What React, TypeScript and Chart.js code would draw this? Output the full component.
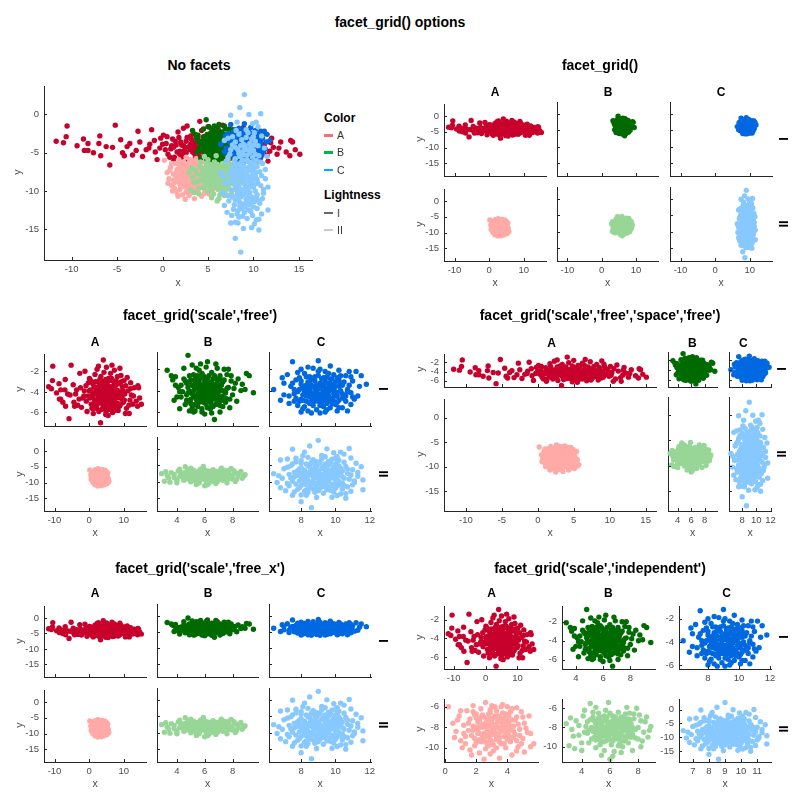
import React, { useEffect, useRef } from 'react';
import { Chart, registerables } from 'chart.js';
Chart.register(...registerables);

// ---------------- data (x, y) ----------------
const groupAI: number[][] = [
  [-11.7,-3.5],[-10.9,-3.7],[-10.6,-2.9],[-10.5,-1.5],[-8.7,-3.2],[-8.6,-4.7],[-8.2,-3.8],[-8.2,-4.7],[-7.0,-3.8],[-6.9,-2.8],
  [-6.8,-5.4],[-5.8,-6.6],[-5.2,-1.4],[-5.5,-4.3],[-4.6,-3.3],[-4.4,-5.0],[-4.2,-5.4],[-3.9,-4.2],[-3.3,-5.3],[-2.7,-2.2],
  [-2.5,-3.6],[-2.2,-5.5],[-1.8,-4.6],[-1.4,-3.9],[-1.2,-2.0],[-0.9,-3.4],[-0.6,-5.9],[-0.3,-4.4],
  [15.1,-5.2],[14.6,-4.6],[14.3,-3.6],[14.1,-3.4],[14.0,-5.4],[13.0,-3.6],[12.6,-5.2],[12.2,-4.3],[12.0,-3.1],[11.8,-4.8],
  [11.6,-6.1],[11.2,-3.9],[11.0,-2.6],[10.8,-5.6],[10.5,-6.1],[10.3,-4.2],[10.1,-2.9],[9.9,-5.0],[9.6,-3.5],
  [0.1,-2.7],[0.4,-3.8],[0.6,-5.2],[0.9,-4.5],[1.1,-3.2],[1.3,-5.6],[1.5,-4.0],[1.7,-2.3],[1.9,-4.8],[2.0,-3.6],
  [2.2,-5.3],[2.3,-1.8],[2.5,-4.3],[2.7,-3.0],[2.8,-5.9],[3.0,-4.6],[3.1,-3.9],[3.3,-7.0],[3.4,-2.5],[3.5,-5.1],
  [3.7,-4.2],[3.8,-3.4],[4.0,-5.5],[4.1,-0.9],[4.2,-4.0],[4.3,-2.1],[4.5,-4.8],[4.6,-3.6],[4.8,-6.2],[4.9,-4.4],
  [5.0,-1.6],[5.1,-3.2],[5.3,-5.0],[5.4,-4.1],[5.6,-2.7],[5.7,-5.7],[5.9,-3.8],[6.0,-4.6],[6.2,-2.2],[6.3,-5.2],
  [6.5,-3.5],[6.6,-4.3],[6.8,-6.0],[7.0,-3.0],[7.1,-4.9],[7.3,-1.9],[7.4,-4.0],[7.6,-5.4],[7.8,-3.3],[8.0,-4.6],
  [8.2,-2.5],[8.4,-5.8],[8.5,-3.9],[8.7,-4.4],[8.9,-1.7],[9.1,-5.2],[9.3,-3.0],[9.4,-4.7],
  [1.0,-4.1],[2.4,-4.7],[3.6,-3.7],[4.4,-4.5],[5.2,-4.3],[6.1,-3.9],[6.9,-4.5],[3.2,-3.3],[2.1,-4.0],[5.8,-5.0],
  [4.7,-5.2],[7.7,-4.2],
  [-0.8,-4.9],[-0.2,-3.1],[0.3,-4.6],[0.5,-2.9],[0.8,-5.6],[1.2,-4.3],[1.4,-3.5],[1.6,-4.9],[1.8,-3.0],[2.1,-5.6],
  [2.3,-4.1],[2.6,-3.5],[2.6,-5.0],[2.9,-4.2],[3.1,-2.8],[3.3,-4.9],[3.5,-3.9],[3.6,-5.7],[3.8,-4.5],[3.9,-3.0],
  [4.1,-4.9],[4.3,-3.6],[4.5,-5.5],[4.6,-4.2],[4.8,-2.8],[5.0,-3.8],[5.1,-5.3],[5.3,-4.6],[5.5,-3.4],[5.6,-4.9],
  [5.8,-2.9],[6.0,-4.1],[6.2,-5.6],[6.4,-4.7],[6.5,-2.7],[6.7,-3.8],[6.9,-5.2],[7.1,-4.2],[7.2,-3.4],[7.4,-5.8],
  [7.6,-4.6],[7.8,-2.9],[8.0,-3.8],[8.2,-5.1],[8.4,-4.3],[8.6,-3.2],[8.8,-5.4],[9.0,-4.0],[9.2,-2.4],[9.5,-4.5],
  [9.8,-3.9],[10.2,-4.8],[10.6,-3.4],[0.0,-3.9],[1.9,-5.2],[3.4,-4.4],[4.9,-5.9],[5.9,-4.4],[7.3,-4.6],[8.1,-4.1],
  [-1.5,-4.4],[-2.9,-4.7],[-3.6,-3.8],[-6.2,-4.2],[-7.6,-5.0],[-9.4,-4.1],[12.8,-4.4],[13.6,-4.9],[11.5,-5.3],[11.9,-3.7],
  [2.7,-1.5],[6.6,-1.4],[1.2,-6.1],[5.5,-6.3]
];
const groupBI: number[][] = [
  [4.8,-0.7],[3.3,-2.1],[3.6,-2.6],[3.7,-3.0],[3.9,-2.7],[9.5,-4.2],[9.0,-2.4],[9.2,-2.6],[8.9,-3.9],[8.6,-4.0],
  [6.7,-6.7],[6.0,-6.2],[5.2,-6.0],[7.1,-6.0],[4.2,-5.7],[4.0,-4.6],[3.8,-4.9],[4.3,-3.5],[4.5,-1.9],[5.1,-1.6],
  [6.2,-1.3],[6.8,-1.5],[7.4,-2.0],[7.9,-2.6],[8.2,-3.3],[8.3,-5.0],[7.8,-5.6],[7.5,-4.7],[4.6,-5.3],[5.0,-4.1],
  [4.9,-3.2],[5.0,-4.8],[5.2,-2.5],[5.3,-3.8],[5.4,-5.2],[5.5,-4.3],[5.6,-2.1],[5.7,-3.4],[5.8,-4.9],[5.9,-3.9],
  [6.0,-2.8],[6.1,-4.5],[6.2,-5.6],[6.3,-3.3],[6.4,-4.1],[6.5,-2.3],[6.6,-4.8],[6.7,-3.6],[6.8,-5.3],[6.9,-4.3],
  [7.0,-2.9],[7.1,-3.9],[7.2,-4.9],[7.3,-3.2],[7.5,-4.2],[7.6,-2.5],[7.7,-3.7],[4.7,-4.4],[4.8,-3.7],[5.1,-5.6],
  [5.3,-4.6],[5.6,-3.0],[5.8,-5.7],[6.0,-3.5],[6.2,-4.0],[6.4,-5.0],[6.6,-2.9],[6.9,-3.3],[7.3,-5.5],[5.4,-1.9],
  [6.1,-1.8],[4.4,-4.1],[4.1,-3.7],[8.0,-4.4],[7.9,-3.1],[5.9,-4.2],[6.3,-4.6],[5.5,-3.6],[6.7,-4.1],[5.7,-4.5],
  [6.5,-3.8],[5.2,-4.0],
  [4.6,-3.1],[4.7,-4.9],[4.9,-2.6],[5.0,-5.2],[5.1,-3.5],[5.2,-4.5],[5.3,-2.9],[5.4,-3.3],[5.5,-5.5],[5.5,-2.6],
  [5.6,-4.7],[5.7,-3.9],[5.8,-2.4],[5.9,-5.1],[6.0,-4.4],[6.0,-3.1],[6.1,-5.3],[6.2,-3.7],[6.3,-2.6],[6.3,-5.0],
  [6.4,-4.5],[6.5,-3.2],[6.6,-5.5],[6.6,-3.9],[6.7,-2.6],[6.8,-4.6],[6.9,-3.7],[7.0,-5.1],[7.0,-4.1],[7.1,-2.6],
  [7.2,-3.5],[7.3,-4.5],[7.4,-3.0],[7.5,-5.1],[7.6,-3.8],[7.8,-4.8],[8.1,-3.8],[8.4,-2.9],[4.3,-4.6],[4.5,-2.9],
  [4.2,-4.1],[5.8,-6.0],[6.5,-6.1],[6.9,-1.9],[5.7,-1.5],[4.9,-5.9],[7.7,-2.0],[8.7,-3.4],[3.9,-3.5],[5.3,-5.9],
  [4.8,-4.2],[4.9,-5.0],[5.0,-3.0],[5.1,-4.3],[5.2,-3.6],[5.3,-5.3],[5.4,-4.8],[5.5,-3.1],[5.6,-4.0],[5.6,-5.1],
  [5.7,-2.8],[5.8,-3.6],[5.9,-4.6],[6.0,-5.0],[6.1,-3.3],[6.1,-4.1],[6.2,-2.9],[6.3,-4.3],[6.4,-3.6],[6.5,-4.7],
  [6.5,-5.3],[6.6,-3.4],[6.7,-4.4],[6.8,-2.9],[6.8,-3.9],[6.9,-5.0],[7.0,-3.6],[7.1,-4.6],[7.2,-3.0],[7.3,-4.0],
  [5.3,-3.1],[5.9,-2.6],[6.4,-5.7],[5.5,-4.9],[7.1,-5.4],[4.7,-3.3],[6.0,-3.8],[6.2,-4.8],[5.8,-4.3],[6.6,-4.2]
];
const groupCI: number[][] = [
  [6.4,-3.9],[6.8,-4.9],[7.0,-3.3],[7.5,-1.3],[9.0,-1.2],[11.8,-3.4],[11.2,-2.2],[11.1,-4.8],[11.3,-4.5],[10.7,-5.9],
  [8.6,-6.1],[9.4,-6.0],[8.0,-6.0],[10.1,-5.9],[7.2,-2.5],[7.3,-5.2],[7.6,-4.3],[7.7,-3.0],[7.8,-2.3],[8.0,-4.8],
  [8.1,-3.6],[8.2,-5.5],[8.3,-2.7],[8.4,-4.2],[8.5,-3.2],[8.6,-5.0],[8.7,-1.9],[8.8,-3.8],[8.9,-4.6],[9.0,-2.6],
  [9.1,-5.4],[9.2,-3.4],[9.3,-4.1],[9.4,-2.2],[9.5,-4.9],[9.6,-3.7],[9.7,-5.6],[9.8,-2.9],[9.9,-4.3],[10.0,-3.2],
  [10.1,-5.1],[10.2,-2.1],[10.3,-4.0],[10.4,-3.5],[10.5,-4.7],[10.6,-2.6],[10.7,-3.9],[10.9,-5.3],[11.0,-3.1],[10.8,-2.2],
  [7.9,-3.9],[8.4,-5.9],[8.6,-2.9],[8.8,-4.4],[9.0,-3.6],[9.2,-4.8],[9.4,-3.1],[9.6,-4.5],[9.8,-5.2],[10.0,-4.1],
  [10.2,-3.0],[8.2,-4.1],[8.9,-5.8],[9.1,-2.0],[9.7,-3.3],[10.4,-5.6],[7.4,-3.6],[10.9,-4.2],[8.5,-4.6],[9.3,-4.5],
  [9.9,-3.8],[8.3,-3.5],[9.5,-2.7],[10.6,-4.5],[7.6,-5.0],
  [7.5,-3.3],[7.7,-4.7],[7.8,-5.4],[7.9,-2.8],[8.0,-3.4],[8.1,-4.4],[8.2,-2.4],[8.3,-5.0],[8.4,-3.8],[8.5,-2.7],
  [8.6,-4.2],[8.7,-5.4],[8.8,-3.1],[8.9,-4.1],[9.0,-5.0],[9.0,-2.2],[9.1,-3.3],[9.2,-4.3],[9.3,-5.5],[9.3,-2.8],
  [9.4,-3.8],[9.5,-4.5],[9.6,-2.4],[9.7,-4.9],[9.8,-3.5],[9.9,-2.5],[10.0,-5.3],[10.1,-4.5],[10.2,-3.6],[10.3,-2.6],
  [10.4,-4.7],[10.5,-3.2],[10.6,-5.0],[10.8,-3.5],[10.9,-2.7],[11.0,-4.6],[7.6,-3.9],[7.3,-4.5],[8.1,-5.7],[9.5,-5.8],
  [10.2,-5.6],[8.4,-1.8],[9.7,-1.7],[11.4,-3.6],[7.0,-4.4],[8.0,-2.0],[10.7,-4.1],[9.1,-6.1],[6.9,-2.8],[11.5,-2.6],
  [7.8,-4.1],[7.9,-5.0],[8.0,-3.1],[8.1,-4.9],[8.2,-3.8],[8.3,-4.5],[8.4,-3.2],[8.5,-5.2],[8.5,-3.9],[8.6,-3.5],
  [8.7,-4.8],[8.8,-2.7],[8.9,-3.5],[9.0,-4.3],[9.0,-4.8],[9.1,-3.8],[9.2,-2.9],[9.2,-5.1],[9.3,-3.6],[9.4,-4.2],
  [9.5,-3.3],[9.5,-5.2],[9.6,-4.1],[9.7,-2.9],[9.8,-4.7],[9.8,-3.9],[9.9,-5.0],[10.0,-3.6],[10.1,-2.8],[10.1,-4.2],
  [10.2,-4.9],[10.3,-3.3],[10.4,-4.3],[8.3,-4.0],[8.8,-5.0],[9.3,-4.9],[9.7,-3.6],[10.0,-4.5],[8.6,-4.5],[9.1,-4.5]
];
const groupAII: number[][] = [
  [0.2,-6.0],[0.5,-7.6],[0.7,-8.4],[1.0,-9.3],[0.9,-6.9],[1.2,-7.8],[1.3,-8.9],[1.4,-6.4],[1.6,-10.2],[1.7,-10.7],
  [1.6,-7.2],[1.8,-8.3],[1.9,-6.8],[2.0,-9.5],[2.1,-7.5],[2.2,-8.6],[2.3,-6.2],[2.4,-9.0],[2.5,-11.1],[2.5,-7.9],
  [2.6,-5.6],[2.7,-8.3],[2.8,-7.1],[2.8,-9.8],[2.9,-6.6],[3.0,-8.7],[3.0,-7.6],[3.1,-10.3],[3.2,-8.1],[3.3,-6.4],
  [3.3,-9.2],[3.4,-7.3],[3.5,-8.5],[3.6,-6.0],[3.6,-9.6],[3.7,-7.8],[3.8,-8.9],[3.9,-6.7],[3.9,-10.0],[4.0,-7.4],
  [4.1,-8.3],[4.2,-9.4],[4.3,-10.7],[4.3,-6.2],[4.4,-7.9],[4.5,-8.7],[4.6,-7.0],[4.7,-9.9],[4.8,-8.2],[4.9,-6.5],
  [5.0,-9.1],[5.1,-7.6],[5.3,-8.5],[5.4,-6.9],[5.5,-9.9],[5.7,-9.6],[2.0,-8.0],[2.6,-9.4],[3.4,-8.0],[3.8,-7.2],
  [2.3,-7.0],[4.1,-8.8],[1.5,-8.3],[3.0,-5.9],[2.9,-10.6],[4.6,-10.3],[1.1,-10.0],[4.0,-6.0],
  [1.5,-7.6],[1.7,-8.8],[1.8,-6.5],[1.9,-9.8],[2.0,-7.1],[2.1,-8.6],[2.2,-9.2],[2.3,-7.7],[2.4,-6.8],[2.5,-8.6],
  [2.6,-10.1],[2.7,-7.4],[2.8,-8.9],[2.9,-6.3],[3.0,-9.4],[3.1,-7.1],[3.2,-8.5],[3.3,-10.0],[3.4,-6.9],[3.5,-9.0],
  [3.6,-7.5],[3.7,-8.3],[3.8,-9.6],[3.9,-7.0],[4.0,-8.6],[4.1,-7.7],[4.2,-6.5],[4.3,-9.0],[4.4,-8.4],[4.5,-7.3],
  [4.6,-9.3],[4.7,-7.7],[4.8,-8.8],[5.0,-7.0],[5.2,-8.1],[1.2,-8.6],[0.8,-7.3],[1.3,-9.6],[5.5,-8.6],[5.1,-10.4],
  [2.2,-10.5],[3.5,-11.0],[3.7,-5.8],[1.8,-5.9],[4.6,-6.1],[0.6,-9.0],[2.7,-9.6],[3.2,-6.0],[4.9,-9.6],[1.0,-6.4],
  [1.8,-7.9],[1.9,-9.1],[2.0,-6.7],[2.1,-8.2],[2.2,-7.3],[2.3,-9.4],[2.4,-8.0],[2.5,-7.0],[2.6,-8.9],[2.7,-7.9],
  [2.8,-6.7],[2.8,-8.5],[2.9,-9.2],[3.0,-7.3],[3.1,-8.1],[3.1,-9.7],[3.2,-6.9],[3.3,-7.7],[3.4,-8.7],[3.5,-7.0],
  [3.5,-9.4],[3.6,-8.1],[3.7,-6.6],[3.8,-8.4],[3.9,-7.5],[4.0,-9.2],[4.1,-6.9],[4.2,-8.0],[4.3,-7.3],[4.4,-9.0],
  [2.2,-8.0],[2.6,-7.6],[3.0,-8.3],[3.3,-8.9],[3.7,-7.2],[4.0,-8.0],[2.4,-8.7],[3.4,-7.4],[2.9,-7.8],[3.8,-8.0]
];
const groupBII: number[][] = [
  [2.9,-7.6],[3.1,-9.9],[3.3,-8.2],[3.6,-7.3],[3.8,-8.8],[4.0,-9.6],[4.1,-6.8],[4.3,-7.9],[4.4,-8.6],[4.6,-5.5],
  [4.6,-7.2],[4.7,-9.2],[4.8,-6.4],[4.9,-8.1],[5.0,-10.1],[5.1,-7.5],[5.2,-8.8],[5.3,-6.9],[5.4,-10.9],[5.4,-9.5],
  [5.5,-7.9],[5.6,-8.5],[5.7,-6.2],[5.8,-9.0],[5.9,-5.4],[5.9,-7.6],[6.0,-11.3],[6.0,-8.3],[6.1,-9.8],[6.2,-6.8],
  [6.3,-10.5],[6.3,-8.0],[6.4,-7.3],[6.5,-9.2],[6.6,-6.4],[6.7,-8.6],[6.8,-7.8],[6.9,-10.0],[7.0,-6.9],[7.1,-8.9],
  [7.2,-7.5],[7.3,-9.6],[7.4,-6.5],[7.5,-8.3],[7.6,-10.4],[7.7,-7.1],[7.8,-9.1],[8.0,-8.0],[8.1,-6.7],[8.3,-9.4],
  [8.5,-7.4],[8.7,-9.0],[8.9,-7.9],[5.0,-8.6],[5.7,-7.1],[6.4,-8.8],[7.0,-8.1],[6.1,-7.4],[5.3,-9.3],[6.7,-9.7],
  [4.5,-8.3],[7.4,-7.8],[5.8,-8.1],[6.5,-7.7],[3.5,-10.2],[8.2,-10.0],[4.2,-6.2],[7.9,-6.0],
  [4.2,-8.5],[4.4,-7.4],[4.5,-9.6],[4.7,-8.0],[4.8,-6.9],[4.9,-9.0],[5.0,-7.6],[5.1,-8.4],[5.2,-6.5],[5.3,-9.8],
  [5.4,-7.3],[5.5,-8.9],[5.6,-6.8],[5.7,-9.4],[5.8,-7.9],[5.9,-8.6],[6.0,-6.5],[6.0,-9.3],[6.1,-8.0],[6.2,-7.7],
  [6.3,-9.0],[6.4,-6.9],[6.5,-8.4],[6.6,-9.9],[6.7,-7.3],[6.8,-8.8],[6.9,-7.6],[7.0,-9.4],[7.1,-6.6],[7.2,-8.3],
  [7.3,-7.1],[7.4,-9.0],[7.5,-7.6],[7.6,-8.7],[7.7,-6.6],[7.8,-8.2],[8.0,-9.2],[8.2,-7.3],[8.4,-8.5],[8.6,-6.9],
  [3.4,-8.9],[3.8,-7.8],[3.2,-7.0],[4.0,-10.4],[5.6,-10.4],[6.8,-10.6],[7.2,-5.9],[5.0,-5.9],[8.8,-8.3],[6.2,-11.0],
  [4.8,-8.4],[4.9,-7.3],[5.0,-9.3],[5.1,-8.0],[5.2,-7.0],[5.3,-8.6],[5.4,-7.7],[5.5,-9.5],[5.6,-7.3],[5.7,-8.2],
  [5.8,-6.9],[5.9,-9.0],[6.0,-7.7],[6.1,-8.5],[6.2,-9.4],[6.3,-7.1],[6.4,-8.2],[6.5,-7.2],[6.6,-8.9],[6.7,-8.0],
  [6.8,-6.9],[6.9,-8.4],[7.0,-7.3],[7.1,-9.2],[7.2,-7.9],[7.3,-8.6],[7.4,-7.2],[7.5,-9.0],[7.6,-8.0],[5.2,-9.0],
  [5.6,-8.6],[6.0,-8.0],[6.4,-7.6],[6.8,-9.3],[7.1,-7.6],[5.4,-8.2],[6.2,-8.7],[6.6,-7.6],[5.8,-7.4],[7.3,-8.2]
];
const groupCII: number[][] = [
  [9.0,2.6],[8.5,0.9],[7.5,-0.1],[10.8,0.1],[9.9,-1.2],[10.5,-1.6],[8.1,-2.1],[7.2,-3.1],[9.4,-2.4],[10.9,-2.8],
  [6.8,-3.4],[8.7,-3.3],[10.2,-3.5],[11.2,-4.4],[7.7,-4.0],[9.1,-4.1],[8.3,-4.6],[10.0,-4.7],[9.6,-5.0],[7.4,-5.2],
  [8.9,-5.3],[10.6,-5.4],[8.0,-5.8],[9.3,-5.9],[10.3,-6.0],[7.0,-6.1],[8.6,-6.3],[9.8,-6.5],[11.0,-6.4],[7.8,-6.7],
  [9.0,-6.9],[10.1,-7.0],[6.4,-7.6],[8.2,-7.2],[9.5,-7.3],[10.7,-7.5],[7.3,-7.8],[8.8,-7.7],[9.9,-7.9],[11.3,-8.4],
  [8.4,-8.1],[9.2,-8.3],[10.4,-8.5],[7.6,-8.6],[6.9,-9.0],[8.9,-8.9],[9.7,-9.1],[10.8,-9.3],[8.1,-9.4],[9.4,-9.6],
  [7.5,-9.9],[10.2,-10.0],[8.6,-10.2],[9.0,-10.4],[11.1,-10.3],[7.2,-10.6],[9.8,-10.8],[8.3,-11.0],[10.5,-11.2],[6.8,-11.9],
  [9.3,-11.5],[7.9,-11.8],[10.0,-12.1],[11.6,-12.5],[8.7,-12.3],[9.5,-12.5],[9.7,-12.7],[7.6,-13.2],[10.9,-13.0],[8.4,-13.4],
  [10.3,-13.8],[7.5,-14.2],[8.0,-14.1],[8.3,-14.2],[10.1,-14.3],[10.6,-15.1],[8.0,-16.2],[8.6,-18.0],
  [8.5,-7.0],[9.1,-7.6],[9.6,-8.2],[8.0,-8.8],[10.0,-9.5],[8.7,-9.8],[9.4,-10.9],[9.2,-6.0],[8.8,-4.9],[10.4,-6.8],
  [7.9,-7.4],[9.9,-5.6],[8.3,-12.6],[9.6,-3.8],[7.3,-11.3],[10.7,-11.6],[8.9,-11.7],[11.1,-9.8],
  [7.7,-2.9],[8.4,-2.6],[9.2,-2.0],[10.1,-2.4],[8.0,-3.6],[8.9,-3.9],[9.8,-3.2],[10.5,-4.1],[7.5,-4.6],[8.5,-5.5],
  [9.4,-4.6],[10.2,-5.2],[7.9,-6.2],[8.8,-6.0],[9.6,-6.8],[10.7,-6.2],[7.6,-7.2],[8.6,-7.5],[9.3,-7.9],[10.3,-7.6],
  [7.8,-8.1],[8.7,-8.5],[9.5,-8.8],[10.5,-9.0],[7.4,-8.9],[8.3,-9.1],[9.1,-9.3],[9.9,-8.6],[10.9,-8.0],[7.9,-9.8],
  [8.8,-10.6],[9.6,-10.2],[10.4,-10.5],[7.7,-10.8],[8.5,-11.5],[9.2,-11.1],[10.1,-11.4],[11.0,-11.0],[7.8,-12.4],[9.0,-12.8],
  [10.4,-12.3],[8.2,-13.0],[9.3,-13.6],[10.6,-13.7],[7.1,-12.8],[11.3,-7.2],[11.5,-5.5],[6.7,-8.2],[6.6,-10.3],[9.8,-14.8],
  [8.9,-14.9],[7.2,-5.6],[8.2,-1.0],[9.5,0.0],[10.3,-1.0],[11.6,-9.5],
  [8.0,-4.3],[8.4,-5.1],[9.0,-4.6],[9.7,-4.3],[10.1,-4.0],[8.2,-6.5],[8.9,-6.6],[9.5,-6.2],[10.0,-6.3],[8.1,-8.2],
  [8.6,-8.0],[9.0,-8.4],[9.4,-8.2],[10.0,-8.2],[8.4,-9.6],[9.2,-9.8],[9.6,-9.5],[10.1,-9.2],[8.2,-10.5],[8.6,-10.8],
  [9.3,-10.2],[9.8,-11.4],[10.3,-10.9],[8.5,-12.0],[9.1,-12.1],[9.6,-11.8],[8.0,-11.2],[10.0,-11.0],[8.8,-7.1],[9.8,-7.3],
  [9.3,-5.3],[8.6,-4.1],[9.2,-3.0],[10.0,-2.9],[8.8,-13.3],[9.9,-13.2],[8.1,-7.7],[10.2,-8.0],[9.0,-9.0],[9.4,-7.0]
];

// tick values
const xTicksWide = [-10, -5, 0, 5, 10, 15];
const xTicksA = [-10, 0, 10];
const xTicksB = [4, 6, 8];
const xTicksC = [8, 10, 12];
const xTicksAII = [0, 2, 4];
const xTicksCII = [7, 8, 9, 10, 11];
const yTicksAll = [0, -5, -10, -15];
const yTicksI = [-2, -4, -6];
const yTicksAII = [-6, -8, -10];

const colNames = ['A', 'B', 'C'];
const rowNames = ['I', 'II'];
const legendColor = ['A', 'B', 'C'];
const legendLight = ['I', 'II'];

// ---------------- styles ----------------
const FONT = '"Liberation Sans", Arial, Helvetica, sans-serif';
const AXIS_COLOR = '#262626';
const TICK_COLOR = '#4d4d4d';
const R = 2.7;
const COLORS = {
  AI: '#c8002c', BI: '#006b00', CI: '#0068e0',
  AII: '#ffaaa6', BII: '#98d698', CII: '#87c8ff',
};
const LEG_COLORS = ['#ff6b78', '#00b446', '#00aaff'];
const LEG_LIGHT = ['#666666', '#cccccc'];

type Grp = { pts: number[][]; color: string };
const gAI: Grp = { pts: groupAI, color: COLORS.AI };
const gBI: Grp = { pts: groupBI, color: COLORS.BI };
const gCI: Grp = { pts: groupCI, color: COLORS.CI };
const gAII: Grp = { pts: groupAII, color: COLORS.AII };
const gBII: Grp = { pts: groupBII, color: COLORS.BII };
const gCII: Grp = { pts: groupCII, color: COLORS.CII };
// draw order: later entries on top
const ALL = [gAI, gAII, gBI, gBII, gCI, gCII];
const GRID = [[gAI, gBI, gCI], [gAII, gBII, gCII]];

function range(groups: Grp[], k: number): [number, number] {
  let lo = Infinity, hi = -Infinity;
  groups.forEach(g => g.pts.forEach(p => { lo = Math.min(lo, p[k]); hi = Math.max(hi, p[k]); }));
  const pad = (hi - lo) * 0.05;
  return [lo - pad, hi + pad];
}

type PanelSpec = {
  left: number; top: number; w: number; h: number;
  groups: Grp[];
  xr: [number, number]; yr: [number, number];
  xt: number[]; yt: number[];
  showX: boolean; showY: boolean;
};

const PAD_L = 40, PAD_R = 12, PAD_T = 8, PAD_B = 22;

const inwardTicks = {
  id: 'inwardTicks',
  afterDraw(chart: any) {
    const { ctx, chartArea, scales } = chart;
    ctx.save();
    ctx.strokeStyle = AXIS_COLOR;
    ctx.lineWidth = 1;
    ctx.beginPath();
    for (const t of scales.x.ticks) {
      const px = Math.round(scales.x.getPixelForValue(t.value)) + 0.5;
      ctx.moveTo(px, chartArea.bottom);
      ctx.lineTo(px, chartArea.bottom - 3);
    }
    for (const t of scales.y.ticks) {
      const py = Math.round(scales.y.getPixelForValue(t.value)) + 0.5;
      ctx.moveTo(chartArea.left, py);
      ctx.lineTo(chartArea.left + 3, py);
    }
    ctx.stroke();
    ctx.restore();
  },
};

function Panel({ spec }: { spec: PanelSpec }) {
  const ref = useRef<HTMLCanvasElement>(null);
  const L = Math.round(spec.left), T = Math.round(spec.top);
  const w = Math.round(spec.left + spec.w) - L, h = Math.round(spec.top + spec.h) - T;
  const W = w + PAD_L + PAD_R, H = h + PAD_T + PAD_B;
  useEffect(() => {
    const n = spec.groups.length;
    const tickFont = { family: FONT, size: 9.5 };
    const chart = new Chart(ref.current as HTMLCanvasElement, {
      type: 'scatter',
      data: {
        datasets: spec.groups.map((g, i) => ({
          data: g.pts.map(p => ({ x: p[0], y: p[1] })),
          backgroundColor: g.color,
          borderWidth: 0,
          pointRadius: R,
          pointHoverRadius: R,
          order: n - i,
          clip: false as any,
        })),
      },
      options: {
        animation: false,
        responsive: false,
        maintainAspectRatio: false,
        events: [],
        layout: { padding: { left: 0, right: PAD_R, top: PAD_T, bottom: 0 } },
        plugins: { legend: { display: false }, tooltip: { enabled: false } },
        scales: {
          x: {
            type: 'linear', min: spec.xr[0], max: spec.xr[1],
            grid: { display: false, drawTicks: false },
            border: { display: true, color: AXIS_COLOR, width: 1 },
            ticks: { display: spec.showX, color: TICK_COLOR, font: tickFont, padding: 4, maxRotation: 0, autoSkip: false, callback: (v: any) => String(v) },
            afterBuildTicks: (s: any) => { s.ticks = spec.xt.map(v => ({ value: v })); },
            afterFit: (s: any) => { s.height = PAD_B; },
          },
          y: {
            type: 'linear', min: spec.yr[0], max: spec.yr[1],
            grid: { display: false, drawTicks: false },
            border: { display: true, color: AXIS_COLOR, width: 1 },
            ticks: { display: spec.showY, color: TICK_COLOR, font: tickFont, padding: 5, autoSkip: false, callback: (v: any) => String(v) },
            afterBuildTicks: (s: any) => { s.ticks = spec.yt.map(v => ({ value: v })); },
            afterFit: (s: any) => { s.width = PAD_L; },
          },
        },
      } as any,
      plugins: [inwardTicks],
    });
    return () => chart.destroy();
  }, []);
  return (
    <canvas ref={ref} width={W} height={H}
      style={{ position: 'absolute', left: L - PAD_L, top: T - PAD_T, width: W, height: H }} />
  );
}

function Txt(props: { x: number; y: number; s: number; b?: boolean; c?: string; r?: number; left?: boolean; children: any }) {
  const { x, y, s, b, c, r, left, children } = props;
  return (
    <div style={{
      position: 'absolute', left: x, top: y,
      transform: `translate(${left ? '0' : '-50%'}, -50%)${r ? ` rotate(${r}deg)` : ''}`,
      fontSize: s, fontWeight: b ? 'bold' : 'normal', color: c || '#000',
      fontFamily: FONT, whiteSpace: 'nowrap', lineHeight: 1,
    }}>{children}</div>
  );
}

// ---------------- layout ----------------
type Layout = {
  colL: number[]; colW: number[]; rowT: number[]; rowH: number[];
};

function buildFacet(lay: Layout, mode: 'shared' | 'free' | 'freex' | 'indep', xt: number[][], yt: number[][], ind?: { xt: number[][][]; yt: number[][][] }): PanelSpec[] {
  const specs: PanelSpec[] = [];
  const gx = range(ALL, 0), gy = range(ALL, 1);
  for (let r = 0; r < 2; r++) {
    for (let c = 0; c < 3; c++) {
      const g = GRID[r][c];
      let xr = gx, yr = gy;
      let xtk = xt[c], ytk = yt[r];
      if (mode === 'free') { xr = range([GRID[0][c], GRID[1][c]], 0); yr = range(GRID[r], 1); }
      if (mode === 'freex') { xr = range([GRID[0][c], GRID[1][c]], 0); }
      if (mode === 'indep' && ind) { xr = range([g], 0); yr = range([g], 1); xtk = ind.xt[r][c]; ytk = ind.yt[r][c]; }
      specs.push({
        left: lay.colL[c], top: lay.rowT[r], w: lay.colW[c], h: lay.rowH[r],
        groups: [g], xr, yr, xt: xtk, yt: ytk,
        showX: mode === 'indep' ? true : r === 1,
        showY: mode === 'indep' ? true : c === 0,
      });
    }
  }
  return specs;
}

const specNoFacet: PanelSpec = {
  left: 44.3, top: 84, w: 267.7, h: 176, groups: ALL,
  xr: range(ALL, 0), yr: range(ALL, 1), xt: xTicksWide, yt: yTicksAll, showX: true, showY: true,
};

const lay2: Layout = { colL: [444.3, 557, 670.3], colW: [101.4, 101.4, 101.4], rowT: [102, 186.7], rowH: [74, 74] };
const lay3: Layout = { colL: [44.3, 157, 269.3], colW: [101.4, 101.4, 101.4], rowT: [352.3, 436.7], rowH: [73.6, 74] };
const lay4: Layout = { colL: [444.3, 667.7, 729.3], colW: [211.7, 49.6, 41.7], rowT: [351.7, 397.3], rowH: [35, 113.4] };
const lay5: Layout = { colL: [44.3, 157, 269.3], colW: [101.4, 101.4, 101.4], rowT: [604, 688.3], rowH: [73.4, 73.4] };
const lay6: Layout = { colL: [444.3, 562.3, 679.3], colW: [94, 92.7, 91.7], rowT: [604, 696.7], rowH: [65, 65] };

const specs2 = buildFacet(lay2, 'shared', [xTicksA, xTicksA, xTicksA], [yTicksAll, yTicksAll]);
const specs3 = buildFacet(lay3, 'free', [xTicksA, xTicksB, xTicksC], [yTicksI, yTicksAll]);
const specs4 = buildFacet(lay4, 'free', [xTicksWide, xTicksB, xTicksC], [yTicksI, yTicksAll]);
const specs5 = buildFacet(lay5, 'freex', [xTicksA, xTicksB, xTicksC], [yTicksAll, yTicksAll]);
const specs6 = buildFacet(lay6, 'indep', [xTicksA, xTicksB, xTicksC], [yTicksI, yTicksAll], {
  xt: [[xTicksA, xTicksB, xTicksC], [xTicksAII, xTicksB, xTicksCII]],
  yt: [[yTicksI, yTicksI, yTicksI], [yTicksAII, yTicksAII, yTicksAll]],
});

type Deco = {
  title: string; tx: number; ty: number; headX: number[]; headY: number;
  rowLabX: number; yLabX: number; xLabRows: number[];
};

function FacetText({ lay, d }: { lay: Layout; d: Deco }) {
  const els: any[] = [];
  els.push(<Txt key="t" x={d.tx} y={d.ty} s={14} b>{d.title}</Txt>);
  colNames.forEach((n, i) => els.push(<Txt key={'h' + i} x={d.headX[i]} y={d.headY} s={12} b>{n}</Txt>));
  rowNames.forEach((n, r) => {
    const cy = lay.rowT[r] + lay.rowH[r] / 2;
    els.push(<Txt key={'r' + r} x={d.rowLabX} y={cy} s={13} b r={-90}>{n}</Txt>);
    els.push(<Txt key={'y' + r} x={d.yLabX} y={cy} s={10.5} c={TICK_COLOR} r={-90}>y</Txt>);
  });
  d.xLabRows.forEach(r => {
    lay.colL.forEach((l, c) => {
      els.push(<Txt key={'x' + r + c} x={l + lay.colW[c] / 2} y={lay.rowT[r] + lay.rowH[r] + 21.5} s={10.5} c={TICK_COLOR}>x</Txt>);
    });
  });
  return <>{els}</>;
}

export default function App() {
  return (
    <div style={{ position: 'absolute', left: 0, top: 0, width: 800, height: 800, background: '#fff', overflow: 'hidden' }}>
      <Txt x={400} y={22} s={14} b>facet_grid() options</Txt>

      {/* No facets */}
      <Txt x={199} y={65} s={14} b>No facets</Txt>
      <Panel spec={specNoFacet} />
      <Txt x={17} y={172} s={10.5} c={TICK_COLOR} r={-90}>y</Txt>
      <Txt x={178} y={282} s={10.5} c={TICK_COLOR}>x</Txt>
      <Txt x={324} y={118} s={12} b left>Color</Txt>
      {legendColor.map((n, i) => (
        <React.Fragment key={'lc' + i}>
          <div style={{ position: 'absolute', left: 324, top: 134 + i * 17.3, width: 9, height: 2.5, background: LEG_COLORS[i] }} />
          <Txt x={337} y={135 + i * 17.3} s={10.5} c="#333" left>{n}</Txt>
        </React.Fragment>
      ))}
      <Txt x={324} y={195} s={12} b left>Lightness</Txt>
      {legendLight.map((n, i) => (
        <React.Fragment key={'ll' + i}>
          <div style={{ position: 'absolute', left: 324, top: 211.5 + i * 17.3, width: 9, height: 2.5, background: LEG_LIGHT[i] }} />
          <Txt x={337} y={212.7 + i * 17.3} s={10.5} c="#333" left>{n}</Txt>
        </React.Fragment>
      ))}

      {specs2.map((s, i) => <Panel key={'p2' + i} spec={s} />)}
      <FacetText lay={lay2} d={{ title: 'facet_grid()', tx: 600, ty: 65, headX: [495, 608, 721], headY: 91.7, rowLabX: 783, yLabX: 419, xLabRows: [1] }} />

      {specs3.map((s, i) => <Panel key={'p3' + i} spec={s} />)}
      <FacetText lay={lay3} d={{ title: "facet_grid('scale','free')", tx: 200, ty: 315, headX: [95, 208, 321], headY: 341.7, rowLabX: 383, yLabX: 19, xLabRows: [1] }} />

      {specs4.map((s, i) => <Panel key={'p4' + i} spec={s} />)}
      <FacetText lay={lay4} d={{ title: "facet_grid('scale','free','space','free')", tx: 600, ty: 315, headX: [551.7, 692.3, 743.3], headY: 342.7, rowLabX: 781, yLabX: 420, xLabRows: [1] }} />

      {specs5.map((s, i) => <Panel key={'p5' + i} spec={s} />)}
      <FacetText lay={lay5} d={{ title: "facet_grid('scale','free_x')", tx: 200, ty: 568, headX: [95, 208, 321], headY: 593.3, rowLabX: 383, yLabX: 19, xLabRows: [1] }} />

      {specs6.map((s, i) => <Panel key={'p6' + i} spec={s} />)}
      <FacetText lay={lay6} d={{ title: "facet_grid('scale','independent')", tx: 600, ty: 568, headX: [491.7, 608.3, 726.7], headY: 593.3, rowLabX: 783, yLabX: 419, xLabRows: [1] }} />
    </div>
  );
}
